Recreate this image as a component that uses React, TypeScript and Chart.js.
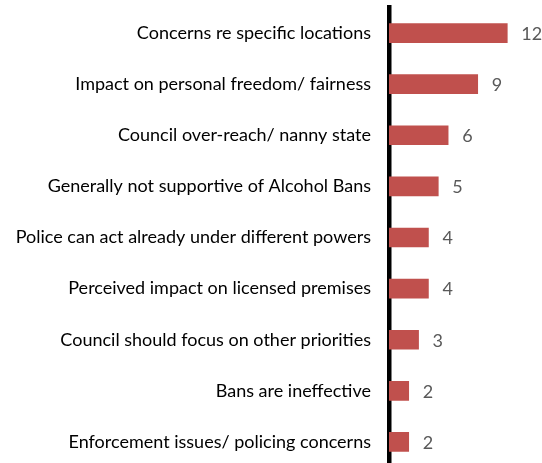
import React, { useEffect, useRef } from "react";
import { Chart, registerables } from "chart.js";

Chart.register(...registerables);

const categories: string[] = [
  "Concerns re specific locations",
  "Impact on personal freedom/ fairness",
  "Council over-reach/ nanny state",
  "Generally not supportive of Alcohol Bans",
  "Police can act already under different powers",
  "Perceived impact on licensed premises",
  "Council should focus on other priorities",
  "Bans are ineffective",
  "Enforcement issues/ policing concerns",
];

const counts: number[] = [12, 9, 6, 5, 4, 4, 3, 2, 2];

const FONT = "Lato, 'Open Sans', sans-serif";
const FONT_SIZE = 18;

const valueLabels = {
  id: "valueLabels",
  afterDatasetsDraw(chart: any) {
    const ctx = chart.ctx;
    const meta = chart.getDatasetMeta(0);
    const data = chart.data.datasets[0].data as number[];
    ctx.save();
    ctx.font = `${FONT_SIZE}px ${FONT}`;
    ctx.fillStyle = "#595959";
    ctx.textAlign = "left";
    ctx.textBaseline = "middle";
    meta.data.forEach((bar: any, i: number) => {
      ctx.fillText(String(data[i]), bar.x + 14, bar.y + 1);
    });
    ctx.restore();
  },
};

export default function App() {
  const ref = useRef<HTMLCanvasElement | null>(null);

  useEffect(() => {
    if (!ref.current) return;
    const chart = new Chart(ref.current, {
      type: "bar",
      data: {
        labels: categories,
        datasets: [
          {
            data: counts,
            backgroundColor: "#C0504D",
            borderWidth: 0,
            barThickness: 19,
          },
        ],
      },
      options: {
        indexAxis: "y",
        responsive: false,
        animation: false,
        devicePixelRatio: 1,
        layout: { padding: { top: 7.5, bottom: 2.5, left: 0, right: 15 } },
        plugins: {
          legend: { display: false },
          tooltip: { enabled: false },
        },
        scales: {
          x: {
            display: false,
            min: 0,
            max: 14,
          },
          y: {
            afterFit: (scale: any) => {
              scale.width = 389;
              scale.paddingTop = 0;
              scale.paddingBottom = 0;
            },
            grid: { display: false, drawTicks: false },
            border: { display: true, width: 4.5, color: "#000000" },
            ticks: {
              padding: 18,
              color: "#000000",
              font: { family: FONT, size: FONT_SIZE },
            },
          },
        },
      },
      plugins: [valueLabels],
    });
    return () => chart.destroy();
  }, []);

  return (
    <div
      style={{
        position: "fixed",
        top: 0,
        left: 0,
        width: 542,
        height: 470,
        background: "#ffffff",
        overflow: "hidden",
      }}
    >
      <canvas ref={ref} width={542} height={470} style={{ display: "block" }} />
    </div>
  );
}
